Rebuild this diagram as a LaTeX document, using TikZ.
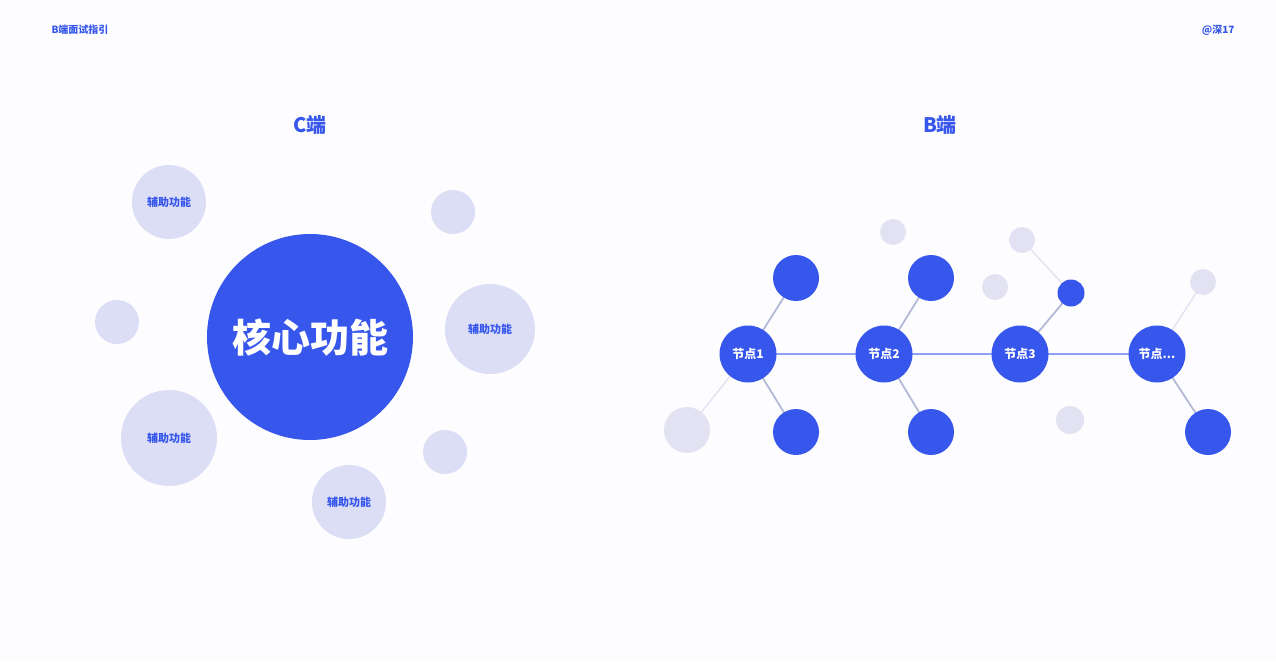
\documentclass[tikz,border=0pt]{standalone}
\usepackage{fontspec}
\setmainfont{Noto Sans CJK SC}
\newfontfamily\cjk{Noto Sans CJK SC}
\definecolor{mainblue}{HTML}{3656EC}
\definecolor{pale}{HTML}{DCDEF6}
\definecolor{faint}{HTML}{E2E2F2}
\definecolor{edgegrey}{HTML}{B4B9D8}
\definecolor{hline}{HTML}{8EA2F2}
\definecolor{bg}{HTML}{FDFDFF}
\pgfdeclarelayer{bglayer}
\pgfdeclarelayer{edges}
\pgfsetlayers{bglayer,edges,main}
\tikzset{
  every node/.style={font=\cjk},
  core/.style={circle, fill=mainblue, text=white, minimum size=206pt, inner sep=0pt, font=\cjk\bfseries\fontsize{39}{42}\selectfont},
  sat/.style={circle, fill=pale, text=mainblue, inner sep=0pt, font=\cjk\bfseries\fontsize{11}{12}\selectfont},
  bnode/.style={circle, fill=mainblue, text=white, minimum size=57pt, inner sep=0pt, font=\cjk\bfseries\fontsize{12}{13}\selectfont},
  leaf/.style={circle, fill=mainblue, minimum size=46pt, inner sep=0pt},
  ghost/.style={circle, fill=faint, inner sep=0pt},
  edge/.style={draw=edgegrey, line width=1.8pt},
  fedge/.style={draw=faint, line width=1.4pt},
  hedge/.style={draw=hline, line width=1.8pt},
  title/.style={text=mainblue, font=\cjk\bfseries\fontsize{20}{22}\selectfont},
  corner/.style={text=mainblue, font=\cjk\bfseries\fontsize{10}{11}\selectfont}
}
\begin{document}
\begin{tikzpicture}[x=1pt,y=-1pt]
\begin{pgfonlayer}{bglayer}
\fill[bg] (0,0) rectangle (1276,661);
\end{pgfonlayer}
\useasboundingbox (0,0) rectangle (1276,661);

\node[corner, anchor=west] (hdrL) at (48,30) {B端面试指引};
\node[corner, anchor=east] (hdrR) at (1238,30) {@深17};

\node[title] (tC) at (310,125) {C端};
\node[title] (tB) at (940,125) {B端};

% C side
\node[sat, minimum size=74pt] (s1) at (169,202) {辅助功能};
\node[sat, minimum size=44pt] (s2) at (453,212) {};
\node[sat, minimum size=90pt] (s3) at (490,329) {辅助功能};
\node[sat, minimum size=44pt] (s4) at (117,322) {};
\node[sat, minimum size=96pt] (s5) at (169,438) {辅助功能};
\node[sat, minimum size=44pt] (s6) at (445,452) {};
\node[sat, minimum size=74pt] (s7) at (349,502) {辅助功能};
\node[core] (core) at (310,337) {核心功能};

% B side ghosts
\node[ghost, minimum size=26pt] (g1) at (893,232) {};
\node[ghost, minimum size=26pt] (g2) at (1022,240) {};
\node[ghost, minimum size=26pt] (g3) at (995,287) {};
\node[ghost, minimum size=26pt] (g4) at (1203,282) {};
\node[ghost, minimum size=28pt] (g5) at (1070,420) {};
\node[ghost, minimum size=46pt] (g6) at (687,430) {};

% B side nodes
\node[bnode] (n1) at (748,354) {节点1};
\node[bnode] (n2) at (884,354) {节点2};
\node[bnode] (n3) at (1020,354) {节点3};
\node[bnode] (n4) at (1157,354) {节点...};

\node[leaf] (t1) at (796,278) {};
\node[leaf] (t2) at (931,278) {};
\node[leaf, minimum size=27pt] (t3) at (1071,293) {};
\node[leaf] (b1) at (796,432) {};
\node[leaf] (b2) at (931,432) {};
\node[leaf] (b4) at (1208,432) {};

\begin{pgfonlayer}{edges}
\draw[hedge] (n1.center) -- (n4.center);
\draw[edge] (n1.center) -- (t1.center);
\draw[edge] (n1.center) -- (b1.center);
\draw[edge] (n2.center) -- (t2.center);
\draw[edge] (n2.center) -- (b2.center);
\draw[edge] (n3.center) -- (t3.center);
\draw[edge] (n4.center) -- (b4.center);
\draw[fedge] (t3.center) -- (g2.center);
\draw[fedge] (n4.center) -- (g4.center);
\draw[fedge] (n1.center) -- (g6.center);
\end{pgfonlayer}
\end{tikzpicture}
\end{document}
